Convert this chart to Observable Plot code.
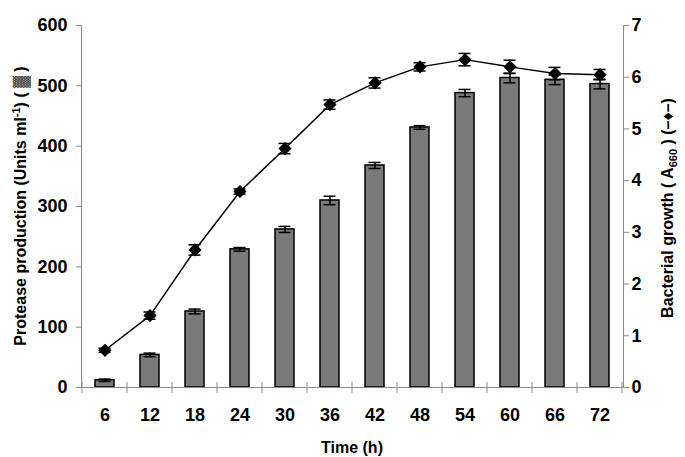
<!DOCTYPE html>
<html><head><meta charset="utf-8">
<script src="https://cdn.jsdelivr.net/npm/d3@7"></script>
<script src="https://cdn.jsdelivr.net/npm/@observablehq/plot@0.6"></script>
<style>body{margin:0;background:#fff;} svg{display:block;}</style>
</head><body><div id="chart"></div>
<script>
const times = [6, 12, 18, 24, 30, 36, 42, 48, 54, 60, 66, 72];
const protease = [12, 54, 126, 229, 262, 310, 368, 431, 488, 513, 510, 503];
const proteaseErr = [2, 3, 4, 3, 5, 7, 5, 3, 6, 8, 8, 8];
const growth = [0.72, 1.39, 2.66, 3.79, 4.62, 5.47, 5.89, 6.20, 6.34, 6.20, 6.07, 6.05];
const growthErr = [0.04, 0.07, 0.10, 0.05, 0.10, 0.09, 0.10, 0.08, 0.12, 0.13, 0.12, 0.10];
const leftTicks = [0, 100, 200, 300, 400, 500, 600];
const rightTicks = [0, 1, 2, 3, 4, 5, 6, 7];

const k = 600 / 7;
const rows = times.map((t, i) => ({t, p: protease[i], pe: proteaseErr[i], g: growth[i] * k, ge: growthErr[i] * k}));
const W = 685, H = 457, ML = 81, MR = 62, MT = 25, MB = 70;
const AX = "#8a8a8a";

const chart = Plot.plot({
  width: W, height: H, marginLeft: ML, marginRight: MR, marginTop: MT, marginBottom: MB,
  style: {fontFamily: "'Liberation Sans', Arial, sans-serif", fontSize: "18px", fontWeight: "bold", color: "black", background: "white"},
  x: {type: "band", domain: times, padding: 0, label: null},
  y: {domain: [0, 600], label: null},
  marks: [
    Plot.barY(rows, {x: "t", y: "p", fill: "#7a7a7a", stroke: "black", strokeWidth: 1.5, insetLeft: 13, insetRight: 13}),
    Plot.ruleX(rows, {x: "t", y1: d => d.p - d.pe, y2: d => d.p + d.pe, stroke: "black", strokeWidth: 1.5}),
    Plot.tickY(rows, {x: "t", y: d => d.p + d.pe, stroke: "black", strokeWidth: 1.5, insetLeft: 16.5, insetRight: 16.5}),
    Plot.tickY(rows, {x: "t", y: d => d.p - d.pe, stroke: "black", strokeWidth: 1.5, insetLeft: 16.5, insetRight: 16.5}),
    Plot.line(rows, {x: "t", y: "g", stroke: "black", strokeWidth: 1.5}),
    Plot.ruleX(rows, {x: "t", y1: d => d.g - d.ge, y2: d => d.g + d.ge, stroke: "black", strokeWidth: 1.5}),
    Plot.tickY(rows, {x: "t", y: d => d.g + d.ge, stroke: "black", strokeWidth: 1.5, insetLeft: 16.5, insetRight: 16.5}),
    Plot.tickY(rows, {x: "t", y: d => d.g - d.ge, stroke: "black", strokeWidth: 1.5, insetLeft: 16.5, insetRight: 16.5}),
    Plot.dot(rows, {x: "t", y: "g", symbol: "diamond2", r: 5, fill: "black", stroke: "black"}),
    Plot.frame({anchor: "left", stroke: AX}),
    Plot.frame({anchor: "right", stroke: AX}),
    Plot.frame({anchor: "bottom", stroke: AX}),
    Plot.axisY(leftTicks, {anchor: "left", tickSize: 5, tickPadding: 9, stroke: AX, fill: "black"}),
    Plot.axisY(rightTicks.map(v => v * k), {anchor: "right", tickSize: 5, tickPadding: 3, tickFormat: d => Math.round(d / k), stroke: AX, fill: "black"}),
    Plot.axisX(times, {anchor: "bottom", tickSize: 0, tickPadding: 21, fill: "black"})
  ]
});
document.getElementById("chart").appendChild(chart);

const svg = d3.select(chart);
const xs = chart.scale("x");
const yBase = H - MB;
const bounds = times.map(t => xs.apply(t)).concat([xs.apply(times[times.length - 1]) + xs.bandwidth]);
svg.append("g").attr("stroke", AX).selectAll("line").data(bounds).join("line")
  .attr("x1", d => d).attr("x2", d => d).attr("y1", yBase - 5).attr("y2", yBase + 6);

const ff = "'Liberation Sans', Arial, sans-serif";
const lt = svg.append("text").attr("transform", "translate(26,206) rotate(-90)")
  .attr("text-anchor", "middle").attr("font-family", ff).attr("font-size", 16).attr("font-weight", "bold").attr("fill", "black");
lt.append("tspan").text("Protease production (Units ml");
lt.append("tspan").attr("font-size", 11).attr("dy", -6).text("-1");
lt.append("tspan").attr("dy", 6).text(") ( ");
lt.append("tspan").attr("fill", "#444").text("▓");
lt.append("tspan").text(" )");

const rt = svg.append("text").attr("transform", "translate(673,208) rotate(-90)")
  .attr("text-anchor", "middle").attr("font-family", ff).attr("font-size", 16).attr("font-weight", "bold").attr("fill", "black");
rt.append("tspan").text("Bacterial growth ( A");
rt.append("tspan").attr("font-size", 11).attr("dy", 4).text("660");
rt.append("tspan").attr("dy", -4).text(" ) (–♦–)");

svg.append("text").attr("x", 352).attr("y", 453).attr("text-anchor", "middle")
  .attr("font-family", ff).attr("font-size", 16).attr("font-weight", "bold").attr("fill", "black").text("Time (h)");
</script>
</body></html>
